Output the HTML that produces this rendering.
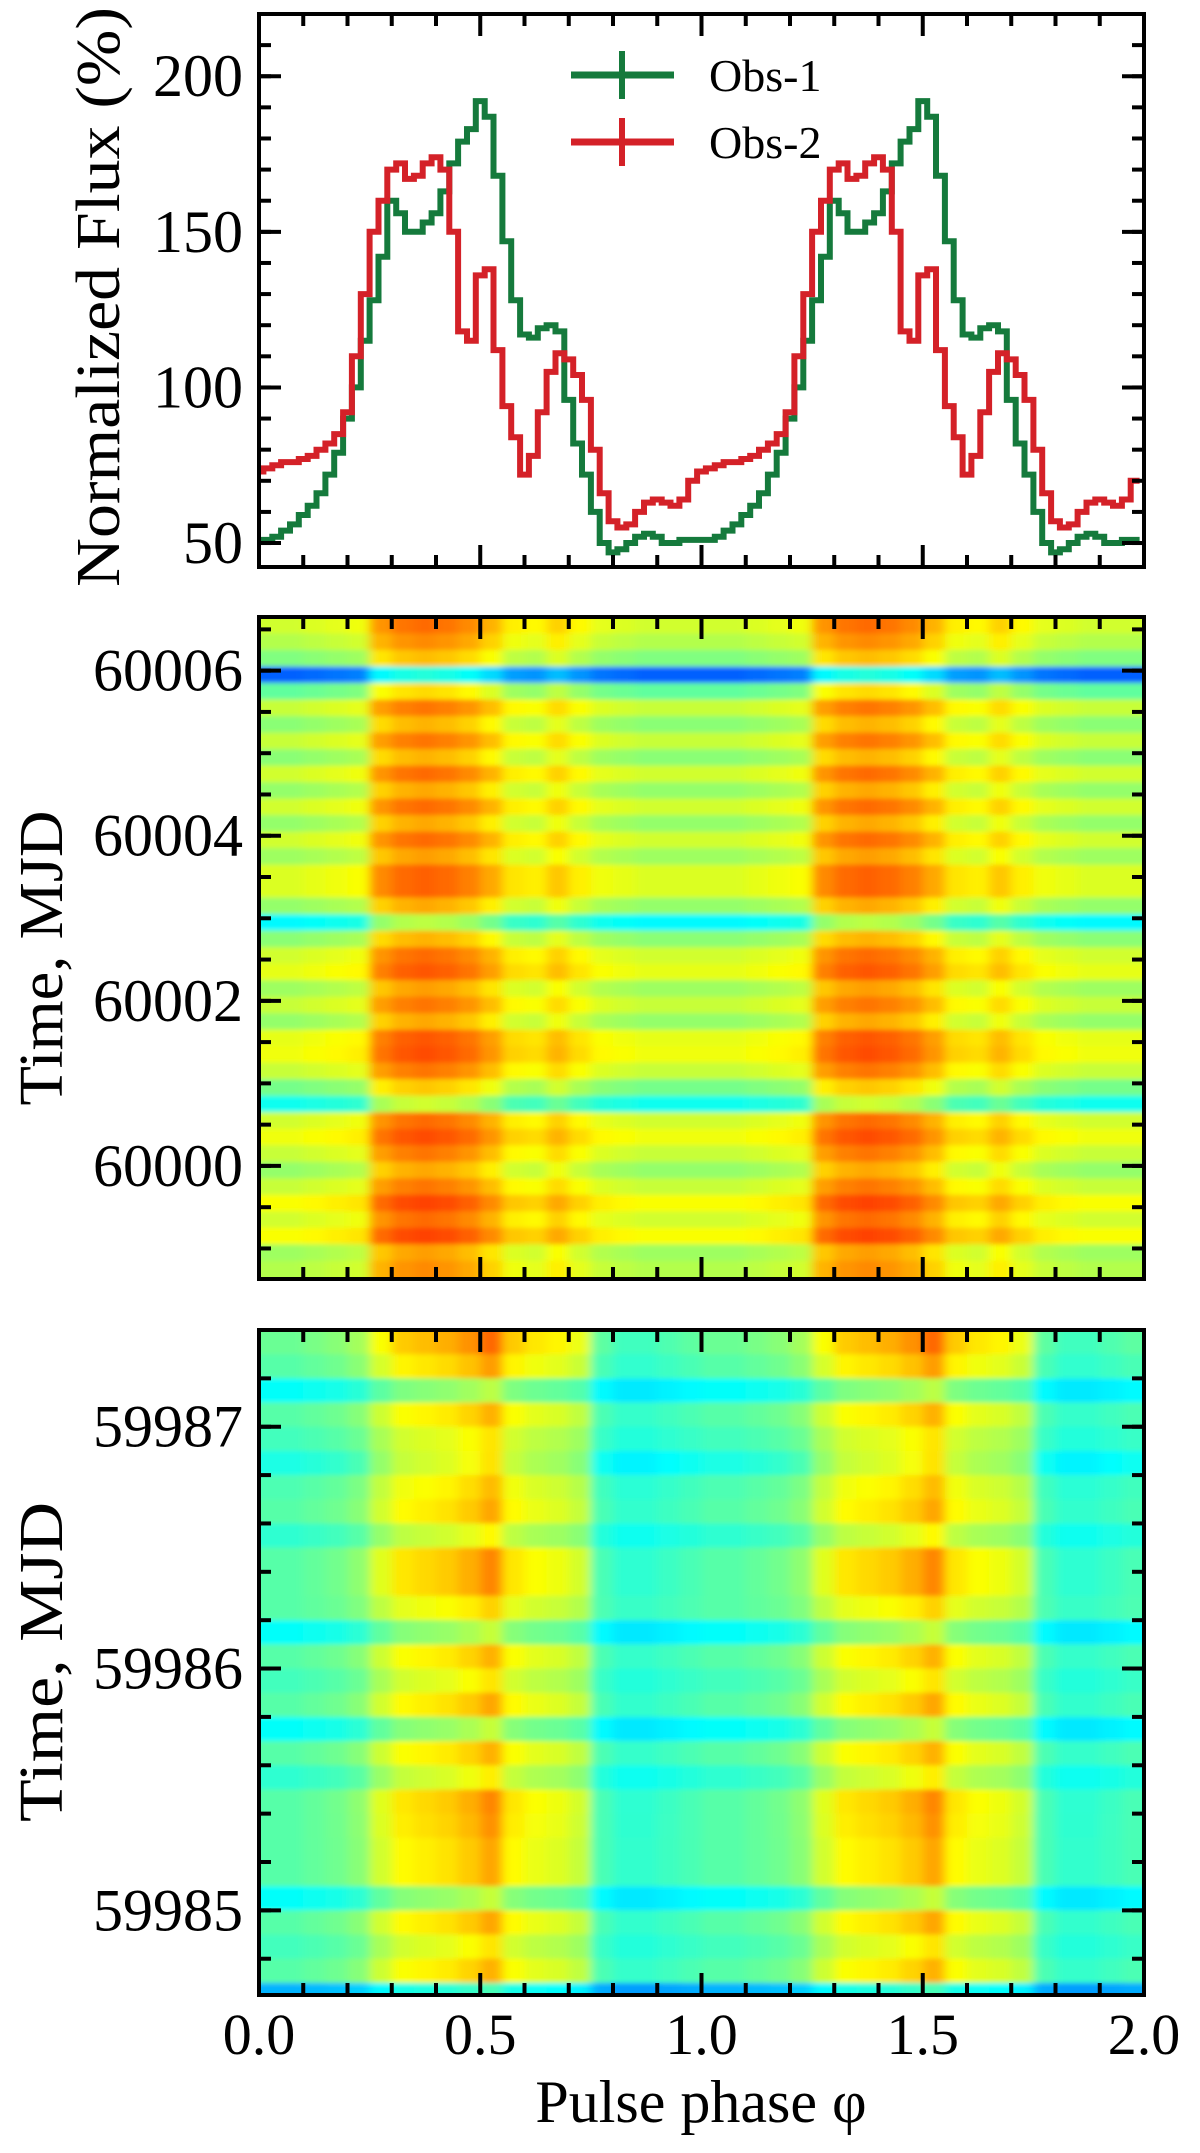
<!DOCTYPE html>
<html><head><meta charset="utf-8"><style>
html,body{margin:0;padding:0;background:#fff;}
svg{display:block;font-family:"Liberation Serif","DejaVu Serif",serif;}
</style></head><body>
<svg id="fig" width="1200" height="2153" viewBox="0 0 1200 2153" xmlns="http://www.w3.org/2000/svg">
<defs>
<clipPath id="clip2"><rect x="259" y="617" width="885" height="662"/></clipPath>
<clipPath id="clip3"><rect x="259" y="1330" width="885" height="665"/></clipPath>
<filter id="blur" x="-5%" y="-5%" width="110%" height="110%"><feGaussianBlur stdDeviation="5 2.5"/></filter>
</defs>
<g id="p1"></g>
<g id="p2"></g>
<g id="p3"></g>
<g id="labels"></g>
</svg>
<script>
// ---- Data ----
const obs1Flux = [51,51,52,54,56,59,62,66,72,79,90,100,115,128,142,160,156,150,150,153,156,163,172,179,183,192,187,168,147,128,117,116,119,120,118,96,82,72,60,50,47,48,50,52,53,52,50,50,51,51];
const obs2Flux = [73,74,75,76,76,77,78,80,82,85,92,110,130,150,160,170,172,167,168,172,174,170,150,118,115,136,138,112,94,84,72,78,92,105,111,109,104,96,80,66,57,55,56,60,63,64,63,62,64,70];
const yTicks1 = [50,100,150,200];
const xTickLabels = ["0.0","0.5","1.0","1.5","2.0"];
const xTickValues = [0,0.5,1.0,1.5,2.0];
const legendNames = ["Obs-1","Obs-2"];

const profile2 = [0.55,0.55,0.56,0.57,0.58,0.70,0.73,0.74,0.73,0.71,0.67,0.61,0.60,0.64,0.60,0.57,0.56,0.55,0.55,0.55];
const rowShift2 = [0.03,0.0,-0.05,-0.33,-0.08,0.02,-0.04,0.02,-0.04,0.03,-0.03,0.03,-0.03,0.03,-0.02,0.04,0.04,-0.03,-0.18,-0.04,0.03,0.05,-0.02,0.02,-0.03,0.05,0.06,0.02,-0.06,-0.16,0.03,0.06,0.02,-0.03,0.02,0.07,0.03,0.07,-0.02,0.0];
const yTicks2 = [60000,60002,60004,60006];

const profile3 = [0.46,0.46,0.47,0.48,0.50,0.56,0.60,0.61,0.62,0.64,0.67,0.60,0.58,0.57,0.55,0.45,0.43,0.43,0.44,0.45];
const rowGain3 = [1.4,1.25,0.85,1.15,1.0,1.2,1.15,1.2,1.0,1.35,1.35,1.0,0.9,1.15,1.0,1.2,0.9,1.15,1.05,1.35,1.3,1.2,1.2,0.9,1.2,1.0,1.15,0.7];
const rowShift3 = [0.02,0,-0.08,0,-0.02,-0.06,-0.01,0,-0.04,0,0,0,-0.08,0,-0.02,0,-0.08,0,-0.04,0,0,0,0,-0.08,0,-0.02,0,-0.16];
const yTicks3 = [59985,59986,59987];

// ---- helpers ----
const NS="http://www.w3.org/2000/svg";
function mk(tag,attrs,parent){const e=document.createElementNS(NS,tag);for(const k in attrs)e.setAttribute(k,attrs[k]);parent.appendChild(e);return e;}
const X0=259,X1=1144;
const xs=p=>X0+(p/2)*(X1-X0);
const P1={top:14,bot:567,ymin:42.3,ymax:220};
const ys1=v=>P1.bot-(v-P1.ymin)/(P1.ymax-P1.ymin)*(P1.bot-P1.top);
const P2={top:617,bot:1279,tmin:59998.63,tmax:60006.65,row:0.2};
const ys2=t=>P2.bot-(t-P2.tmin)/(P2.tmax-P2.tmin)*(P2.bot-P2.top);
const P3={top:1330,bot:1995,tmin:59984.65,tmax:59987.40,row:0.1};
const ys3=t=>P3.bot-(t-P3.tmin)/(P3.tmax-P3.tmin)*(P3.bot-P3.top);
function jet(v){v=Math.max(0,Math.min(1,v));const c=x=>Math.round(255*Math.max(0,Math.min(1,1.5-Math.abs(x))));return `rgb(${c(4*v-3)},${c(4*v-2)},${c(4*v-1)})`;}

function frameTicks(g,top,bot,yMaj,yMin,ymap){
  const tk={stroke:"#000","stroke-width":4};
  for(let i=0;i<=20;i++){const x=xs(i*0.1);const L=(i%5===0)?22:12;
    mk("line",Object.assign({x1:x,x2:x,y1:top,y2:top+L},tk),g);
    mk("line",Object.assign({x1:x,x2:x,y1:bot,y2:bot-L},tk),g);}
  yMin.forEach(v=>{const y=ymap(v);if(y<top+2||y>bot-2)return;
    mk("line",Object.assign({x1:X0,x2:X0+12,y1:y,y2:y},tk),g);
    mk("line",Object.assign({x1:X1,x2:X1-12,y1:y,y2:y},tk),g);});
  yMaj.forEach(v=>{const y=ymap(v);
    mk("line",Object.assign({x1:X0,x2:X0+22,y1:y,y2:y},tk),g);
    mk("line",Object.assign({x1:X1,x2:X1-22,y1:y,y2:y},tk),g);
    const t=mk("text",{x:243,y:y+20,"text-anchor":"end","font-size":60},g);t.textContent=String(v);
    
    });
  const fr=mk("rect",{x:X0,y:top,width:X1-X0,height:bot-top,fill:"none",stroke:"#000","stroke-width":4},g);
  
  
}

// ---- panel 1 ----
const g1=document.getElementById("p1");
function stepPath(arr){let d="";const n=arr.length;
  for(let rep=0;rep<2;rep++)for(let i=0;i<n;i++){
    const a=Math.max(0,rep+(i-0.5)/n),b=Math.min(2,rep+(i+0.5)/n);const y=ys1(arr[i]);
    d+=(d===""?"M":"L")+xs(a).toFixed(1)+","+y.toFixed(1)+"L"+xs(b).toFixed(1)+","+y.toFixed(1);}
  return d;}
const lg=mk("path",{d:stepPath(obs1Flux),fill:"none",stroke:"#157a3c","stroke-width":6,"stroke-linejoin":"miter"},g1);


const lr=mk("path",{d:stepPath(obs2Flux),fill:"none",stroke:"#d42128","stroke-width":6},g1);


const yMin1=[];for(let v=50;v<=220;v+=10)yMin1.push(v);
frameTicks(g1,P1.top,P1.bot,yTicks1,yMin1,ys1);
// legend
const leg=mk("g",{},g1);


[["#157a3c",75],["#d42128",142]].forEach((c,i)=>{
  const e=mk("g",{},leg);
  
  
  mk("line",{x1:571,x2:674,y1:c[1],y2:c[1],stroke:c[0],"stroke-width":7},e);
  mk("line",{x1:622,x2:622,y1:c[1]-24,y2:c[1]+24,stroke:c[0],"stroke-width":6},e);
  const t=mk("text",{x:709,y:c[1]+16,"font-size":46},e);t.textContent=legendNames[i];
});

// ---- heatmaps ----
function heat(gid,clip,P,ys,profile,nrows,valFn,yMaj,yMin){
  const g=document.getElementById(gid);
  const hg=mk("g",{"clip-path":`url(#${clip})`},g);
  const bg=mk("g",{filter:"url(#blur)"},hg);
  const nc=profile.length*2;
  for(let r=0;r<nrows;r++){
    const tHi=P.tmax-r*P.row,tLo=tHi-P.row;
    let y0=ys(tHi),y1=ys(tLo);
    if(r===0)y0-=20; if(r===nrows-1)y1=Math.max(y1,P.bot)+20;
    for(let c=0;c<nc;c++){
      let x0=xs(c*2/nc),x1=xs((c+1)*2/nc);
      if(c===0)x0-=20; if(c===nc-1)x1+=20;
      const cell=mk("rect",{x:x0.toFixed(1),y:y0.toFixed(1),width:(x1-x0+0.8).toFixed(1),height:(y1-y0+0.8).toFixed(1),fill:jet(valFn(r,c%profile.length))},bg);
      
      
    }
  }
  frameTicks(g,P.top,P.bot,yMaj,yMin,ys);
}
const yMin2=[];for(let v=59999;v<=60006.6;v+=0.5)yMin2.push(v);
heat("p2","clip2",P2,ys2,profile2,rowShift2.length,(r,c)=>profile2[c]+rowShift2[r],yTicks2,yMin2);
const yMin3=[];for(let v=59984.8;v<=59987.4;v+=0.2)yMin3.push(Math.round(v*10)/10);
heat("p3","clip3",P3,ys3,profile3,rowGain3.length,(r,c)=>0.46+(profile3[c]-0.46)*rowGain3[r]+rowShift3[r],yTicks3,yMin3);

// ---- axis labels ----
const gl=document.getElementById("labels");
xTickValues.forEach((v,i)=>{const t=mk("text",{x:xs(v),y:2054,"text-anchor":"middle","font-size":58},gl);t.textContent=xTickLabels[i];
  
  });
const xl=mk("text",{x:701,y:2122,"text-anchor":"middle","font-size":60},gl);xl.textContent="Pulse phase φ";


const yl1=mk("text",{x:0,y:0,"text-anchor":"middle","font-size":62,transform:"translate(119,297) rotate(-90)",textLength:580,lengthAdjust:"spacingAndGlyphs"},gl);yl1.textContent="Normalized Flux (%)";


const yl2=mk("text",{x:0,y:0,"text-anchor":"middle","font-size":62,transform:"translate(62,958) rotate(-90)",textLength:295,lengthAdjust:"spacingAndGlyphs"},gl);yl2.textContent="Time, MJD";


const yl3=mk("text",{x:0,y:0,"text-anchor":"middle","font-size":62,transform:"translate(62,1662) rotate(-90)",textLength:320,lengthAdjust:"spacingAndGlyphs"},gl);yl3.textContent="Time, MJD";


</script>
</body></html>
